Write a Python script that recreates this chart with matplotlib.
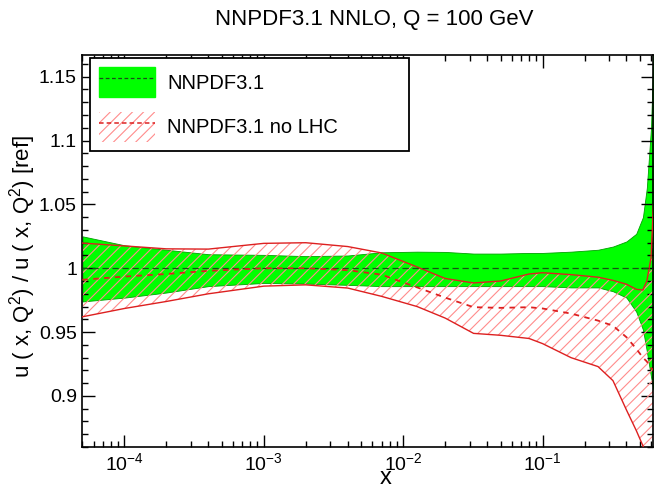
import numpy as np
import matplotlib
matplotlib.use("Agg")
import matplotlib.pyplot as plt
from matplotlib.patches import Patch
from matplotlib.lines import Line2D
from matplotlib.ticker import MultipleLocator, FixedLocator, FixedFormatter

plt.rcParams['font.family'] = ['Liberation Sans', 'DejaVu Sans']
plt.rcParams['mathtext.fontset'] = 'custom'
plt.rcParams['mathtext.rm'] = 'Liberation Sans'
plt.rcParams['mathtext.it'] = 'Liberation Sans:italic'
plt.rcParams['mathtext.bf'] = 'Liberation Sans:bold'
plt.rcParams['hatch.linewidth'] = 0.8

# x grid
x = [5e-5, 1e-4, 2e-4, 4e-4, 1e-3, 2e-3, 4e-3, 7e-3, 1.26e-2, 2e-2, 3.2e-2,
     5e-2, 8e-2, 0.1, 0.16, 0.25, 0.32, 0.4, 0.47, 0.525, 0.56, 0.6, 0.625]

# NNPDF3.1 band (ratio to itself)
green_mid = [1.0] * len(x)
green_up = [1.025, 1.018, 1.0145, 1.011, 1.0105, 1.0095, 1.010, 1.0125, 1.013,
            1.0128, 1.0115, 1.0115, 1.012, 1.012, 1.013, 1.0145, 1.017, 1.021,
            1.027, 1.040, 1.063, 1.11, 1.17]
green_lo = [0.974, 0.977, 0.981, 0.986, 0.9885, 0.988, 0.987, 0.986, 0.986,
            0.986, 0.986, 0.986, 0.986, 0.986, 0.985, 0.985, 0.982, 0.977,
            0.966, 0.952, 0.935, 0.915, 0.905]

# NNPDF3.1 no LHC band
red_mid = [0.991, 0.9935, 0.9955, 0.998, 1.000, 1.000, 0.9985, 0.995, 0.985,
           0.977, 0.9695, 0.969, 0.9695, 0.9685, 0.9645, 0.959, 0.955, 0.946,
           0.937, 0.930, 0.927, 0.922, 0.920]
red_up = [1.0197, 1.0175, 1.0152, 1.015, 1.0195, 1.020, 1.017, 1.012, 1.001,
          0.992, 0.9885, 0.990, 0.9955, 0.9965, 0.995, 0.993, 0.9905, 0.9875,
          0.9835, 0.983, 0.990, 1.008, 1.05]
red_lo = [0.962, 0.9685, 0.974, 0.980, 0.986, 0.987, 0.9845, 0.978, 0.970,
          0.961, 0.949, 0.9475, 0.945, 0.941, 0.930, 0.923, 0.912, 0.889,
          0.873, 0.861, 0.852, 0.845, 0.840]

yticks = [0.9, 0.95, 1.0, 1.05, 1.1, 1.15]
ytick_labels = ['0.9', '0.95', '1', '1.05', '1.1', '1.15']

fig = plt.figure(figsize=(6.54, 4.86), dpi=100)
ax = fig.add_axes([0.1261, 0.0802, 0.8731, 0.8066])

green = '#00ff00'
red = '#dd2020'

ax.fill_between(x, green_lo, green_up, facecolor=green, edgecolor='#00a000',
                linewidth=0.6, zorder=1)
ax.fill_between(x, red_lo, red_up, facecolor='none', edgecolor='#ff8c8c',
                hatch='///', linewidth=0, zorder=2)
ax.plot(x, red_up, color=red, lw=1.0, zorder=3)
ax.plot(x, red_lo, color=red, lw=1.0, zorder=3)
ax.plot(x, green_mid, color='#1a4d1a', lw=0.9, dashes=(5, 3), zorder=4)
ax.plot(x, red_mid, color=red, lw=1.3, dashes=(3, 3), zorder=4)

ax.set_xscale('log')
ax.set_xlim(5e-5, 0.625)
ax.set_ylim(0.86, 1.167)

ax.yaxis.set_major_locator(FixedLocator(yticks))
ax.yaxis.set_major_formatter(FixedFormatter(ytick_labels))
ax.yaxis.set_minor_locator(MultipleLocator(0.01))

for s in ax.spines.values():
    s.set_linewidth(1.2)
ax.tick_params(which='both', direction='in', top=True, right=True, width=1.0)
ax.tick_params(which='major', length=9, labelsize=14, pad=4)
ax.tick_params(which='minor', length=4.5)

ax.set_xlabel('x', fontsize=17)
ax.xaxis.set_label_coords(0.531, -0.052)
ax.set_ylabel('u ( x, Q$^{2}$) / u ( x, Q$^{2}$) [ref]', fontsize=16)
ax.yaxis.set_label_coords(-0.078, 0.485)

fig.text(0.572, 0.959, 'NNPDF3.1 NNLO, Q = 100 GeV', ha='center', va='center',
         fontsize=16)

h1 = (Patch(facecolor=green, edgecolor=green),
      Line2D([], [], color='#1a4d1a', lw=0.9, dashes=(3, 2)))
h2 = (Patch(facecolor='none', edgecolor='#ff8c8c', hatch='///', linewidth=0),
      Line2D([], [], color=red, lw=1.1, dashes=(3, 2)))
leg = ax.legend([h1, h2], ['NNPDF3.1', 'NNPDF3.1 no LHC'], loc='upper left',
                bbox_to_anchor=(0.013, 0.717, 0.558, 0.275), mode='expand',
                borderaxespad=0, fontsize=14.5, handlelength=2.8,
                handleheight=1.9, labelspacing=0.75, handletextpad=0.6,
                borderpad=0.45, fancybox=False, framealpha=1, edgecolor='black')
leg.get_frame().set_linewidth(1.3)

fig.savefig('out.png', dpi=100)
